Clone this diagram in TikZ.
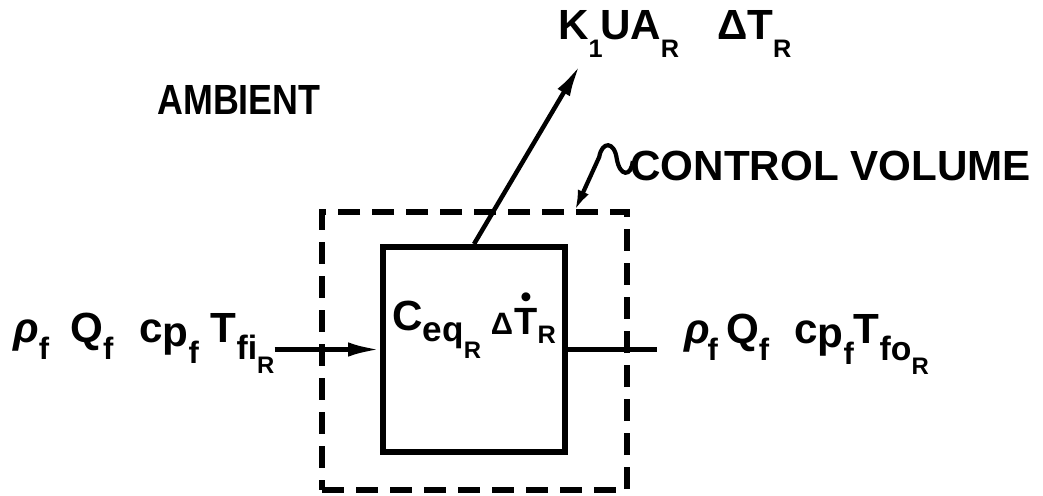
\documentclass[tikz,border=0pt]{standalone}
\usepackage{fontspec}
\setmainfont{Liberation Sans}
\usetikzlibrary{arrows.meta}
\newcommand{\lo}[2][22]{\raisebox{-0.42em}{\fontsize{#1}{#1}\selectfont #2}}
\newcommand{\dotT}{\ooalign{T\cr\hidewidth\raisebox{0.72em}{\fontsize{22}{22}\selectfont\textbullet}\hidewidth\cr}}

\begin{document}
\begin{tikzpicture}[
  every node/.style={font=\fontsize{30}{32}\selectfont\bfseries, inner sep=0pt},
  cvbox/.style={draw, dash pattern=on 0.55cm off 0.3cm, line width=4pt,
                minimum width=7.625cm, minimum height=6.95cm},
  blk/.style={draw, line width=4.2pt, minimum width=4.55cm, minimum height=5.125cm},
  lbl/.style={anchor=base west},
  arr/.style={-{Latex[length=0.8cm, width=0.36cm]}, line width=3.2pt},
  sarr/.style={-{Latex[length=0.5cm, width=0.3cm]}, line width=3pt}
]
  \useasboundingbox (0,0) rectangle (26.075,12.375);

  \node[cvbox] (cv) at (11.8625,3.6) {};
  \node[blk] (box) at (11.85,3.6375) {};

  \node[lbl] (ceq) at (9.8,4.125) {C\raisebox{-8.5pt}{\fontsize{25}{25}\selectfont eq\raisebox{-12pt}{\fontsize{17}{17}\selectfont R}}\hspace{7pt}\raisebox{-3.5pt}{\fontsize{22}{22}\selectfont Δ}\hspace{1pt}\raisebox{-3.5pt}{\fontsize{27}{27}\selectfont\dotT\raisebox{-6pt}{\fontsize{18}{18}\selectfont R}}};

  \node[lbl] (fin) at (0.325,3.825) {\textit{ρ}\lo{f}\hspace{0.5em}Q\lo{f}\hspace{0.62em}c\raisebox{-3pt}{p\lo{f}}\hspace{0.28em}T\lo[24]{fi\lo[17]{R}}};
  \node[lbl] (fout) at (17.1,3.8) {\textit{ρ}\hspace{-0.05em}\lo{f}\hspace{0.19em}Q\lo{f}\hspace{0.6em}c\raisebox{-3pt}{p\lo{f}}T\lo[24]{fo\lo[17]{R}}};
  \coordinate (oend) at (16.425,3.6375);

  \node[lbl] (kua) at (13.95,11.375) {K\lo[18]{1}\hspace{-2pt}UA\lo[18]{R}\hspace{0.9em}ΔT\lo[18]{R}};
  \coordinate (qtip) at (14.5,10.75);

  \node[lbl] (amb) at (3.925,9.5) {\scalebox{0.85}[1]{AMBIENT}};
  \node[lbl] (cvl) at (15.75,7.875) {CONTROL VOLUME};
  \coordinate (cvs) at (15.82,8.35);
  \coordinate (cvt) at (14.375,7.12);

  \draw[arr] (fin.east |- box.west) -- (box.west);
  \draw[line width=3.2pt] (box.east) -- (oend);
  \draw[arr] (box.north) -- (qtip);
  \draw[sarr] (cvs) .. controls (15.78,7.95) and (15.5,7.95) .. (15.42,8.4)
    .. controls (15.36,8.85) and (15.05,8.85) .. (14.98,8.45) -- (cvt);
\end{tikzpicture}
\end{document}
